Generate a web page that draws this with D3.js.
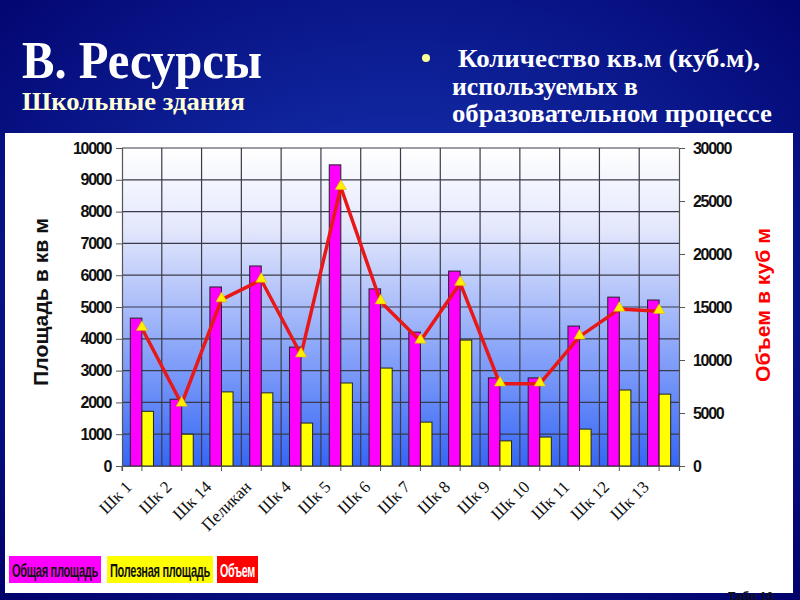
<!DOCTYPE html>
<html>
<head>
<meta charset="utf-8">
<script src="https://cdn.jsdelivr.net/npm/d3@7"></script>
<style>
  body { margin: 0; background: #000070; }
  svg { display: block; }
</style>
</head>
<body>
<div id="chart"></div>
<script>
var schools = ["Шк 1", "Шк 2", "Шк 14", "Пеликан", "Шк 4", "Шк 5", "Шк 6", "Шк 7", "Шк 8", "Шк 9", "Шк 10", "Шк 11", "Шк 12", "Шк 13"];
var totalArea  = [4650, 2100, 5630, 6290, 3740, 9470, 5570, 4210, 6130, 2770, 2770, 4400, 5310, 5220];
var usefulArea = [1720, 1000, 2330, 2300, 1350, 2610, 3080, 1380, 3960, 790, 910, 1160, 2390, 2260];
var volume     = [13000, 5850, 15700, 17550, 10500, 26300, 15500, 11800, 17250, 7750, 7750, 12200, 14800, 14600];
var leftTicks  = [0, 1000, 2000, 3000, 4000, 5000, 6000, 7000, 8000, 9000, 10000];
var rightTicks = [0, 5000, 10000, 15000, 20000, 25000, 30000];

var W = 800, H = 600;
var plot = {left: 122, right: 679, top: 148, bottom: 466};

var svg = d3.select("#chart").append("svg")
    .attr("width", W)
    .attr("height", H);

var defs = svg.append("defs");
var bg = defs.append("radialGradient").attr("id", "bg")
    .attr("cx", "50%").attr("cy", "45%").attr("r", "75%");
bg.append("stop").attr("offset", "0%").attr("stop-color", "#1838b8");
bg.append("stop").attr("offset", "100%").attr("stop-color", "#00006a");

var pg = defs.append("linearGradient").attr("id", "pg")
    .attr("x1", 0).attr("y1", 0).attr("x2", 0).attr("y2", 1);
pg.append("stop").attr("offset", "0%").attr("stop-color", "#ffffff");
pg.append("stop").attr("offset", "25%").attr("stop-color", "#e4e8fc");
pg.append("stop").attr("offset", "100%").attr("stop-color", "#3566f6");

svg.append("rect").attr("width", W).attr("height", H).attr("fill", "url(#bg)");

// squeeze a text horizontally to a given width (keeps bbox honest)
function fitWidth(sel, w) {
  sel.each(function(d) {
    var t = d3.select(this);
    var tw = typeof w === "function" ? w(d) : w;
    var n = this.getComputedTextLength();
    var x0 = +t.attr("x"), y0 = +t.attr("y");
    t.attr("x", 0).attr("y", 0)
     .attr("transform", "translate(" + x0 + "," + y0 + ") scale(" + (tw / n) + ",1)");
  });
}

// heading
svg.append("text")
    .attr("x", 22).attr("y", 78)
    .style("font", "bold 52px 'Liberation Serif', serif")
    .attr("fill", "#ffffff")
    .text("В. Ресурсы")
    .call(fitWidth, 240);
svg.append("text")
    .attr("x", 22).attr("y", 110)
    .style("font", "bold 25px 'Liberation Serif', serif")
    .attr("fill", "#ffffd8")
    .text("Школьные здания")
    .call(fitWidth, 223);

svg.append("circle").attr("cx", 426).attr("cy", 58).attr("r", 4).attr("fill", "#ffff99");
var bullet = [
  {t: "Количество кв.м (куб.м),", x: 458, y: 67, w: 302},
  {t: "используемых в", x: 452, y: 95, w: 186},
  {t: "образовательном процессе", x: 452, y: 122, w: 320}
];
svg.selectAll(".bl").data(bullet).enter().append("text")
    .attr("x", function(d) { return d.x; })
    .attr("y", function(d) { return d.y; })
    .style("font", "bold 25px 'Liberation Serif', serif")
    .attr("fill", "#ffffff")
    .text(function(d) { return d.t; })
    .call(fitWidth, function(d) { return d.w; });

// white panel
svg.append("rect")
    .attr("x", 5).attr("y", 133).attr("width", 788).attr("height", 460)
    .attr("fill", "#ffffff");

var x = d3.scaleBand().domain(schools).range([plot.left, plot.right]).padding(0);
var x1 = d3.scaleBand().domain(["total", "useful"]).range([0, x.bandwidth()])
    .paddingInner(0).paddingOuter(0.72);
var yL = d3.scaleLinear().domain([0, 10000]).range([plot.bottom, plot.top]);
var yR = d3.scaleLinear().domain([0, 30000]).range([plot.bottom, plot.top]);

svg.append("rect")
    .attr("x", plot.left).attr("y", plot.top)
    .attr("width", plot.right - plot.left).attr("height", plot.bottom - plot.top)
    .attr("fill", "url(#pg)");

// grid
svg.append("g").selectAll("line").data(leftTicks).enter().append("line")
    .attr("x1", plot.left).attr("x2", plot.right)
    .attr("y1", function(d) { return yL(d); }).attr("y2", function(d) { return yL(d); })
    .attr("stroke", "#3a3a4a").attr("stroke-width", 1.2);
svg.append("g").selectAll("line").data(schools.slice(1)).enter().append("line")
    .attr("x1", function(d) { return x(d); }).attr("x2", function(d) { return x(d); })
    .attr("y1", plot.top).attr("y2", plot.bottom)
    .attr("stroke", "#3a3a4a").attr("stroke-width", 1.2);

// bars
var groups = svg.append("g").selectAll("g").data(schools).enter().append("g")
    .attr("transform", function(d) { return "translate(" + x(d) + ",0)"; });
groups.append("rect")
    .attr("x", x1("total")).attr("width", x1.bandwidth())
    .attr("y", function(d, i) { return yL(totalArea[i]); })
    .attr("height", function(d, i) { return plot.bottom - yL(totalArea[i]); })
    .attr("fill", "#ff00ff").attr("stroke", "#222").attr("stroke-width", 1);
groups.append("rect")
    .attr("x", x1("useful")).attr("width", x1.bandwidth())
    .attr("y", function(d, i) { return yL(usefulArea[i]); })
    .attr("height", function(d, i) { return plot.bottom - yL(usefulArea[i]); })
    .attr("fill", "#ffff00").attr("stroke", "#222").attr("stroke-width", 1);

// volume line
var cx = function(d, i) { return x(schools[i]) + x1("useful"); };
var line = d3.line()
    .x(function(d, i) { return cx(d, i); })
    .y(function(d) { return yR(d); });
svg.append("path").datum(volume)
    .attr("d", line)
    .attr("fill", "none").attr("stroke", "#e81818").attr("stroke-width", 3.5)
    .attr("stroke-linejoin", "round");
var tri = d3.symbol().type(d3.symbolTriangle).size(55);
svg.append("g").selectAll("path").data(volume).enter().append("path")
    .attr("d", tri)
    .attr("transform", function(d, i) { return "translate(" + cx(d, i) + "," + (yR(d) - 1) + ")"; })
    .attr("fill", "#ffee00").attr("stroke", "#d8b000").attr("stroke-width", 0.5);

// axes
var axisL = d3.axisLeft(yL).tickValues(leftTicks).tickFormat(d3.format("d")).tickSize(6).tickPadding(5);
var gL = svg.append("g").attr("transform", "translate(" + plot.left + ",0)").call(axisL);
var axisR = d3.axisRight(yR).tickValues(rightTicks).tickFormat(d3.format("d")).tickSize(6).tickPadding(8);
var gR = svg.append("g").attr("transform", "translate(" + plot.right + ",0)").call(axisR);
var axisB = d3.axisBottom(x).tickSize(5).tickFormat("");
var gB = svg.append("g").attr("transform", "translate(0," + plot.bottom + ")").call(axisB);
gB.append("line").attr("x1", plot.left).attr("x2", plot.left).attr("y1", 0).attr("y2", 5).attr("stroke", "#555");
[gL, gR, gB].forEach(function(g) {
  g.select(".domain").attr("stroke", "#555").attr("stroke-width", 1.2);
  g.selectAll(".tick line").attr("stroke", "#555");
  g.selectAll(".tick text")
    .style("font", "bold 16px 'Liberation Sans', Arial, sans-serif")
    .style("letter-spacing", "-1.3px")
    .attr("fill", "#111");
});

// category labels
svg.append("g").selectAll("text").data(schools).enter().append("text")
    .attr("transform", function(d) {
      return "translate(" + (x(d) + x.bandwidth() / 2 - 9) + "," + (plot.bottom + 22) + ") rotate(-45)";
    })
    .attr("text-anchor", "end")
    .style("font", "17px 'Liberation Serif', serif")
    .attr("fill", "#111")
    .text(function(d) { return d; });

// axis titles
svg.append("text")
    .attr("transform", "translate(48,302) rotate(-90)")
    .attr("text-anchor", "middle")
    .attr("textLength", 168).attr("lengthAdjust", "spacingAndGlyphs")
    .style("font", "bold 20px 'Liberation Sans', Arial, sans-serif")
    .attr("fill", "#111")
    .text("Площадь в кв м");
svg.append("text")
    .attr("transform", "translate(770,305) rotate(-90)")
    .attr("text-anchor", "middle")
    .attr("textLength", 154).attr("lengthAdjust", "spacingAndGlyphs")
    .style("font", "bold 20px 'Liberation Sans', Arial, sans-serif")
    .attr("fill", "#ff0000")
    .text("Объем в куб м");

// legend
var legend = [
  {name: "Общая площадь", fill: "#ff00ff", color: "#111", x: 9, w: 92},
  {name: "Полезная площадь", fill: "#ffff00", color: "#111", x: 107, w: 106},
  {name: "Объем", fill: "#ff0000", color: "#ffffff", x: 217, w: 41}
];
var lg = svg.append("g").selectAll("g").data(legend).enter().append("g");
lg.append("rect")
    .attr("x", function(d) { return d.x; }).attr("y", 556)
    .attr("width", function(d) { return d.w; }).attr("height", 27)
    .attr("fill", function(d) { return d.fill; });
lg.append("text")
    .attr("x", function(d) { return d.x + 3; }).attr("y", 577)
    .style("font", "bold 18px 'Liberation Sans', Arial, sans-serif")
    .style("letter-spacing", "-0.5px")
    .attr("fill", function(d) { return d.color; })
    .text(function(d) { return d.name; })
    .call(fitWidth, function(d) { return d.w - 6; });

svg.append("text")
    .attr("x", 728).attr("y", 601)
    .style("font", "bold 12px 'Liberation Sans', Arial, sans-serif")
    .attr("fill", "#111")
    .text("Табл 10");
</script>
</body>
</html>
